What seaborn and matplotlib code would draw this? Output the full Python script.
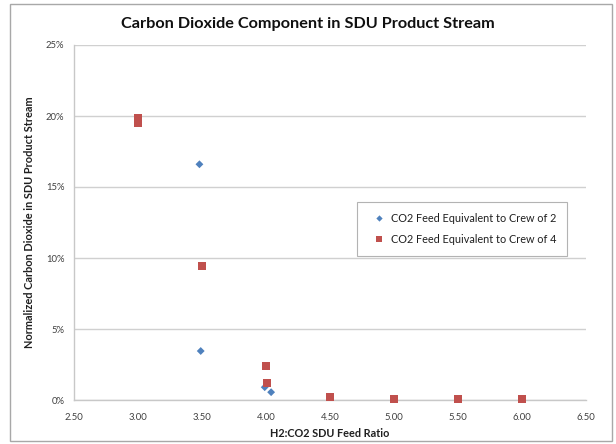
import matplotlib
matplotlib.use("Agg")
import matplotlib.pyplot as plt
import seaborn as sns
import pandas as pd
from matplotlib.patches import Rectangle
from matplotlib.ticker import PercentFormatter, FormatStrFormatter

crew2_ratio = [3.48, 3.49, 3.99, 4.04, 5.00]
crew2_co2 = [16.6, 3.45, 0.9, 0.55, 0.08]
crew4_ratio = [3.00, 3.00, 3.50, 4.00, 4.01, 4.50, 5.00, 5.50, 6.00]
crew4_co2 = [19.85, 19.5, 9.45, 2.4, 1.2, 0.2, 0.1, 0.1, 0.1]
series_names = ["CO2 Feed Equivalent to Crew of 2", "CO2 Feed Equivalent to Crew of 4"]

df = pd.DataFrame({
    "ratio": crew2_ratio + crew4_ratio,
    "co2": crew2_co2 + crew4_co2,
    "series": [series_names[0]] * len(crew2_ratio) + [series_names[1]] * len(crew4_ratio),
})

sns.set_theme(style="white")
plt.rcParams["font.family"] = ["Lato", "DejaVu Sans"]

fig = plt.figure(figsize=(6.16, 4.44), dpi=100)
ax = fig.add_axes([74 / 616, 1 - 400 / 444, 512 / 616, 355 / 444])

sns.scatterplot(
    data=df, x="ratio", y="co2", hue="series", style="series", size="series",
    palette={series_names[0]: "#4F81BD", series_names[1]: "#C0504D"},
    markers={series_names[0]: "D", series_names[1]: "s"},
    sizes={series_names[0]: 16, series_names[1]: 32},
    linewidth=0, ax=ax, zorder=3, clip_on=False,
)

ax.set_xlim(2.5, 6.5)
ax.set_ylim(0, 25)
ax.set_xticks([2.5, 3.0, 3.5, 4.0, 4.5, 5.0, 5.5, 6.0, 6.5])
ax.set_yticks([0, 5, 10, 15, 20, 25])
ax.xaxis.set_major_formatter(FormatStrFormatter("%.2f"))
ax.yaxis.set_major_formatter(PercentFormatter(decimals=0))
ax.tick_params(axis="both", labelsize=6.8, colors="#404040", length=0)
ax.tick_params(axis="x", pad=9)
ax.tick_params(axis="y", pad=7)
ax.grid(axis="y", color="#D0D0D0", linewidth=1)
ax.set_axisbelow(True)
for side in ["top", "right"]:
    ax.spines[side].set_visible(False)
for side in ["left", "bottom"]:
    ax.spines[side].set_color("#C8C8C8")
    ax.spines[side].set_linewidth(1)

ax.set_xlabel("H2:CO2 SDU Feed Ratio", fontsize=7.8, fontweight="bold", color="#202020", labelpad=5)
ax.set_ylabel("Normalized Carbon Dioxide in SDU Product Stream", fontsize=7.9, fontweight="bold",
              color="#202020", labelpad=8)
fig.text(0.5, 1 - 24 / 444, "Carbon Dioxide Component in SDU Product Stream", ha="center",
         va="center", fontsize=11.7, fontweight="bold", color="#101010")

leg = ax.legend(loc="upper left", bbox_to_anchor=((352 - 74) / 512, (400 - 197) / 355),
                fontsize=7.8, frameon=True, fancybox=False, edgecolor="#A0A0A0",
                handletextpad=0.1, borderpad=1.0, labelspacing=0.9, markerscale=0.8,
                handlelength=2.0)
leg.get_frame().set_linewidth(0.8)
for t in leg.get_texts():
    t.set_color("#202020")

fig.patches.append(Rectangle((10 / 616, 3 / 444), 602 / 616, 437 / 444, transform=fig.transFigure,
                             fill=False, edgecolor="#A8A8A8", linewidth=1))

fig.savefig("out.png", dpi=100)
